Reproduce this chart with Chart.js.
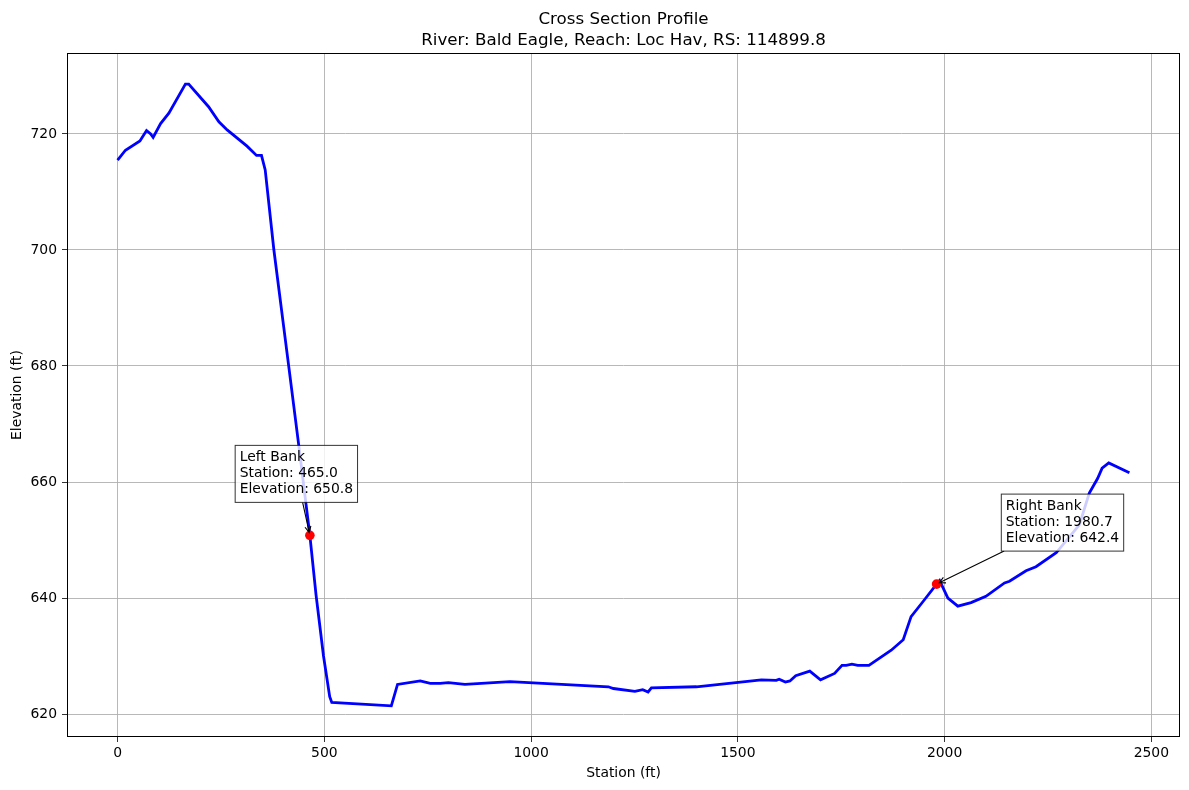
<!DOCTYPE html>
<html>
<head>
<meta charset="utf-8">
<script src="https://cdn.jsdelivr.net/npm/chart.js@4"></script>
<style>
  body { margin: 0; background: #fff; }
  canvas { display: block; }
</style>
</head>
<body>
<canvas id="profile_chart" width="1189" height="790"></canvas>
<script>
// cross section points
const stations = [
  0, 19, 54, 70, 80, 86, 104, 124, 164, 172, 220, 245, 265, 313, 336, 348,
  357, 378, 414, 438, 465, 480, 498, 513, 518, 662, 677, 732, 756, 780, 800,
  840, 949, 1187, 1199, 1251, 1270, 1283, 1291, 1400, 1557, 1593, 1600, 1615,
  1626, 1640, 1674, 1700, 1734, 1752, 1762, 1776, 1790, 1817, 1871, 1900, 1919,
  1948, 1980.7, 1988, 2008, 2032, 2064, 2100, 2145, 2157, 2197, 2221, 2270,
  2326, 2350, 2370, 2381, 2397, 2447
];
const elevations = [
  715.5, 717.2, 718.8, 720.6, 720.0, 719.4, 721.8, 723.6, 728.6, 728.6, 724.7,
  722.1, 720.7, 717.9, 716.3, 716.3, 713.8, 700.0, 679.9, 666.4, 650.8, 640.5,
  630.0, 623.0, 622.0, 621.4, 625.1, 625.7, 625.3, 625.3, 625.4, 625.1, 625.6,
  624.7, 624.4, 623.9, 624.2, 623.8, 624.5, 624.7, 625.9, 625.8, 626.0, 625.5,
  625.7, 626.6, 627.4, 625.9, 627.0, 628.4, 628.4, 628.6, 628.4, 628.4, 631.0,
  632.8, 636.8, 639.4, 642.4, 643.0, 640.0, 638.6, 639.2, 640.3, 642.6, 642.9,
  644.7, 645.4, 647.8, 652.6, 658.1, 660.6, 662.4, 663.3, 661.6
];

const bank_labels = ['Left Bank', 'Right Bank'];
const bank_stations = [465.0, 1980.7];
const bank_elevations = [650.8, 642.4];

const x_ticks = [0, 500, 1000, 1500, 2000, 2500];
const y_ticks = [620, 640, 660, 680, 700, 720];

const title_lines = ['Cross Section Profile', 'River: Bald Eagle, Reach: Loc Hav, RS: 114899.8'];
const x_label = 'Station (ft)';
const y_label = 'Elevation (ft)';

const FONT = '"DejaVu Sans", sans-serif';
Chart.defaults.font.family = FONT;
Chart.defaults.color = '#000';


function padded(values) {
  const lo = Math.min(...values);
  const hi = Math.max(...values);
  const m = (hi - lo) * 0.05;
  return [lo - m, hi + m];
}


function draw_banks(chart) {
  const ctx = chart.ctx;
  const xs = chart.scales.x;
  const ys = chart.scales.y;
  ctx.save();
  ctx.font = '13.9px ' + FONT;
  for (let i = 0; i < bank_labels.length; i++) {
    const px = xs.getPixelForValue(bank_stations[i]);
    const py = ys.getPixelForValue(bank_elevations[i]);
    const lines = [
      bank_labels[i],
      'Station: ' + bank_stations[i].toFixed(1),
      'Elevation: ' + bank_elevations[i].toFixed(1)
    ];
    const w = Math.max(...lines.map(t => ctx.measureText(t).width)) + 9;
    const h = 57;
    const bx = i === 0 ? px - 74.7 : px + 64.7;
    const by = py - 90;

    // arrow from box edge to the point
    const cx = bx + w / 2, cy = by + h / 2;
    const dx = px - cx, dy = py - cy;
    const t = Math.min(Math.abs(w / 2 / dx), Math.abs(h / 2 / dy));
    const sx = cx + dx * t, sy = cy + dy * t;
    const len = Math.hypot(px - sx, py - sy);
    const ux = (px - sx) / len, uy = (py - sy) / len;
    const ex = px - ux * 3, ey = py - uy * 3;
    ctx.strokeStyle = '#000';
    ctx.lineWidth = 1.1;
    ctx.beginPath();
    ctx.moveTo(sx, sy);
    ctx.lineTo(ex, ey);
    const hl = 6, hw = 3;
    ctx.moveTo(ex - ux * hl - uy * hw, ey - uy * hl + ux * hw);
    ctx.lineTo(ex, ey);
    ctx.lineTo(ex - ux * hl + uy * hw, ey - uy * hl - ux * hw);
    ctx.stroke();

    ctx.fillStyle = 'rgba(255,255,255,0.8)';
    ctx.fillRect(bx, by, w, h);
    ctx.strokeStyle = 'rgba(0,0,0,0.8)';
    ctx.lineWidth = 1;
    ctx.strokeRect(bx, by, w, h);

    ctx.fillStyle = '#000';
    ctx.textAlign = 'left';
    ctx.textBaseline = 'alphabetic';
    lines.forEach((txt, k) => {
      ctx.fillText(txt, bx + 4.5, by + 15.5 + k * 16.3);
    });
  }
  ctx.restore();
}


const extras = {
  id: 'extras',
  afterDatasetsDraw(chart) {
    draw_banks(chart);
  },
  afterDraw(chart) {
    const ctx = chart.ctx;
    const a = chart.chartArea;
    ctx.save();
    ctx.strokeStyle = '#000';
    ctx.lineWidth = 1;
    ctx.strokeRect(Math.round(a.left) + 0.5, Math.round(a.top) + 0.5,
                   Math.round(a.right - a.left) - 1, Math.round(a.bottom - a.top) - 1);
    ctx.fillStyle = '#000';
    ctx.font = '16.7px ' + FONT;
    ctx.textAlign = 'center';
    ctx.textBaseline = 'alphabetic';
    const mid = (a.left + a.right) / 2;
    ctx.fillText(title_lines[0], mid, 24);
    ctx.fillText(title_lines[1], mid, 45);
    ctx.restore();
  }
};


function init() {
  const [xmin, xmax] = padded(stations);
  const [ymin, ymax] = padded(elevations);

  const profile = stations.map((s, i) => ({ x: s, y: elevations[i] }));
  const banks = bank_stations.map((s, i) => ({ x: s, y: bank_elevations[i] }));

  const tick_font = { family: FONT, size: 13.9 };

  new Chart(document.getElementById('profile_chart'), {
    type: 'scatter',
    data: {
      datasets: [
        {
          data: banks,
          backgroundColor: '#ff0000',
          borderWidth: 0,
          pointRadius: 4.8,
          order: 0
        },
        {
          data: profile,
          showLine: true,
          borderColor: '#0000ff',
          borderWidth: 2.8,
          pointRadius: 0,
          tension: 0,
          order: 1
        }
      ]
    },
    options: {
      responsive: false,
      animation: false,
      layout: { padding: { top: 53, right: 9, left: 0, bottom: 0 } },
      plugins: {
        legend: { display: false },
        tooltip: { enabled: false },
        title: { display: false }
      },
      scales: {
        x: {
          type: 'linear',
          min: xmin,
          max: xmax,
          afterBuildTicks: s => { s.ticks = x_ticks.map(v => ({ value: v })); },
          afterFit: s => { s.height = 53; },
          border: { display: false },
          grid: { color: '#b0b0b0', lineWidth: 0.9, tickLength: 5, tickColor: '#000', tickWidth: 0.8 },
          ticks: { font: tick_font, padding: 3, maxRotation: 0, callback: v => String(v) },
          title: { display: true, text: x_label, font: tick_font, padding: { top: 0, bottom: 8.7 } }
        },
        y: {
          type: 'linear',
          min: ymin,
          max: ymax,
          afterBuildTicks: s => { s.ticks = y_ticks.map(v => ({ value: v })); },
          afterFit: s => { s.width = 67; },
          border: { display: false },
          grid: { color: '#b0b0b0', lineWidth: 0.9, tickLength: 5, tickColor: '#000', tickWidth: 0.8 },
          ticks: { font: tick_font, padding: 5, callback: v => String(v) },
          title: { display: true, text: y_label, font: tick_font, padding: { top: 8.7, bottom: 0 } }
        }
      }
    },
    plugins: [extras]
  });
}

init();
</script>
</body>
</html>
